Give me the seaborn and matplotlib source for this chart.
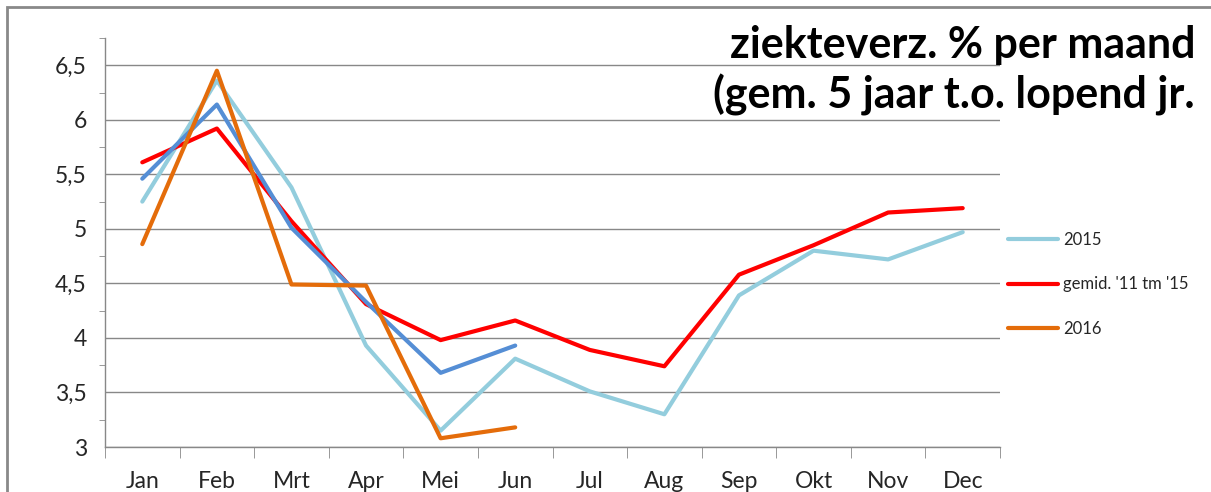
import matplotlib
matplotlib.use("Agg")
import matplotlib.pyplot as plt
from matplotlib.patches import Rectangle
from matplotlib.ticker import MultipleLocator, FixedLocator
import pandas as pd
import seaborn as sns

MONTHS = ["Jan", "Feb", "Mrt", "Apr", "Mei", "Jun", "Jul", "Aug", "Sep", "Okt", "Nov", "Dec"]

VALS_2015 = [5.25, 6.36, 5.38, 3.93, 3.15, 3.81, 3.51, 3.30, 4.39, 4.80, 4.72, 4.97]
VALS_GEMID = [5.61, 5.92, 5.07, 4.31, 3.98, 4.16, 3.89, 3.74, 4.58, 4.85, 5.15, 5.19]
VALS_2016 = [4.86, 6.45, 4.49, 4.48, 3.08, 3.18]
VALS_BLUE = [5.46, 6.14, 5.01, 4.33, 3.68, 3.93]

SERIES = ["2015", "gemid. '11 tm '15", "2016"]
COLORS = {"2015": "#93CDDD", "gemid. '11 tm '15": "#FF0000", "2016": "#E46C0A"}
BLUE = "#558ED5"

rows = []
for name, vals in zip(SERIES, [VALS_2015, VALS_GEMID, VALS_2016]):
    for m, v in zip(MONTHS, vals):
        rows.append([name, m, v])
df = pd.DataFrame(rows, columns=["serie", "maand", "pct"])
df_blue = pd.DataFrame({"maand": MONTHS[:len(VALS_BLUE)], "pct": VALS_BLUE})

sns.set_style("white")
plt.rcParams["font.family"] = ["Lato", "DejaVu Sans"]

fig = plt.figure(figsize=(12.11, 4.92), dpi=100)
ax = fig.add_axes([105 / 1211, 1 - 447 / 492, 895 / 1211, (447 - 38) / 492])

# draw order: light blue, red, blue, orange
sns.lineplot(data=df[df.serie == SERIES[0]], x="maand", y="pct", color=COLORS[SERIES[0]],
             lw=3, sort=False, ax=ax, label=SERIES[0])
sns.lineplot(data=df[df.serie == SERIES[1]], x="maand", y="pct", color=COLORS[SERIES[1]],
             lw=3, sort=False, ax=ax, label=SERIES[1])
sns.lineplot(data=df_blue, x="maand", y="pct", color=BLUE, lw=3, sort=False, ax=ax, legend=False)
sns.lineplot(data=df[df.serie == SERIES[2]], x="maand", y="pct", color=COLORS[SERIES[2]],
             lw=3, sort=False, ax=ax, label=SERIES[2])

ax.set_xlim(-0.5, 11.5)
ax.set_ylim(3, 6.75)
ax.set_xlabel("")
ax.set_ylabel("")

grid_c = "#888888"
ax.yaxis.set_major_locator(FixedLocator([3, 3.5, 4, 4.5, 5, 5.5, 6, 6.5]))
ax.yaxis.set_minor_locator(MultipleLocator(0.25))
ax.yaxis.set_major_formatter(plt.FuncFormatter(lambda v, p: f"{v:g}".replace(".", ",")))
ax.grid(axis="y", which="major", color=grid_c, lw=1)
ax.set_axisbelow(True)

ax.set_xticks(range(12))
ax.set_xticklabels(MONTHS)
ax.xaxis.set_minor_locator(FixedLocator([i - 0.5 for i in range(13)]))
ax.tick_params(axis="x", which="major", length=0, pad=17, labelsize=16.5, labelcolor="#262626")
ax.tick_params(axis="x", which="minor", length=8, color=grid_c, direction="out", bottom=True)
ax.tick_params(axis="y", which="major", length=0, pad=13, labelsize=16.5, labelcolor="#262626")
ax.tick_params(axis="y", which="minor", length=4, color=grid_c, direction="out", left=True)

for s in ["top", "right"]:
    ax.spines[s].set_visible(False)
for s in ["left", "bottom"]:
    ax.spines[s].set_color(grid_c)
    ax.spines[s].set_linewidth(1)

handles, labels = ax.get_legend_handles_labels()
ax.get_legend().remove()
fig.legend(handles, labels, loc="upper left", bbox_to_anchor=(1008 / 1211, 1 - 232 / 492),
           frameon=False, fontsize=12, handlelength=3.0, handletextpad=0.3,
           labelspacing=1.7, borderpad=0, borderaxespad=0)

fig.text(1195 / 1211, 1 - 25 / 492, "ziekteverz. % per maand\n(gem. 5 jaar t.o. lopend jr.",
         ha="right", va="top", fontsize=31, fontweight="bold", linespacing=1.25, color="black")

fig.patches.append(Rectangle((7 / 1211, -0.2), 1.2, 1.2 - 7 / 492, transform=fig.transFigure,
                             fill=False, edgecolor="#898989", lw=2))

fig.savefig("out.png", dpi=100)
